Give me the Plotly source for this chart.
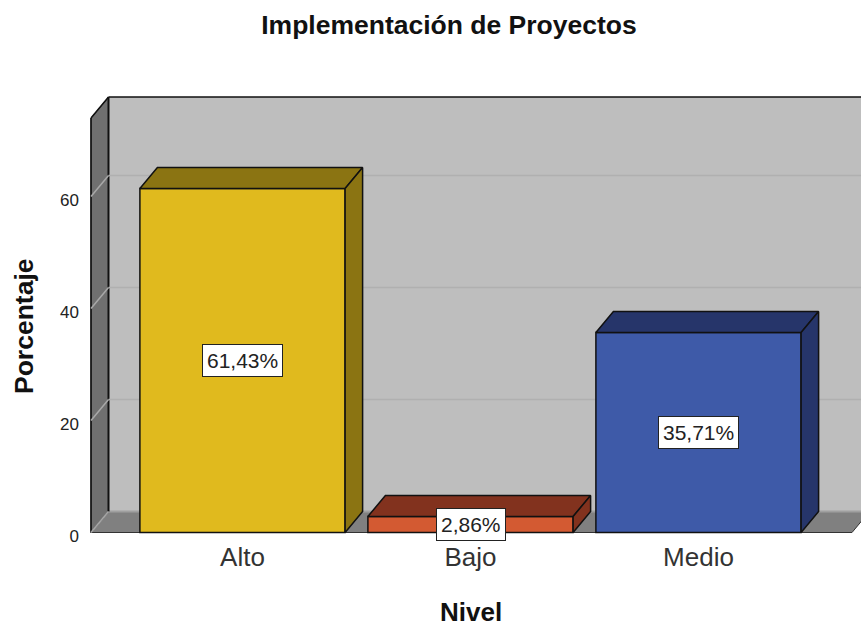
"""
Implementacion de Proyectos: SPSS style 3D bar chart.
Front faces are normal bars, the depth faces and the box are built on the same axes.
"""

import plotly.graph_objects as go

categories = ["Alto", "Bajo", "Medio"]
values = [61.43, 2.86, 35.71]
value_labels = ["61,43%", "2,86%", "35,71%"]
y_ticks = [0, 20, 40, 60]

front_colors = ["#E0BA1E", "#D35A32", "#3E5AA8"]
side_colors = ["#8B7412", "#82321E", "#26356A"]

WIDTH = 861
HEIGHT = 629

# pixel layout of the front plane
PX_PER_CAT = 228.0
PX_PER_UNIT = 5.6
X0_PX = 242.5
Y0_PX = 532.5

DEPTH_X = 17.5 / PX_PER_CAT
DEPTH_Y = 21.0 / PX_PER_UNIT
BAR_W = 0.9

# box corners in axis units
BOX_LEFT = (91 - X0_PX) / PX_PER_CAT
BOX_RIGHT = (852 - X0_PX) / PX_PER_CAT
BOX_TOP = 74.0

# plot area, a little bigger than the box so the edge lines are not clipped
LEFT_PX, RIGHT_PX = 85, 861
TOP_PX, BOTTOM_PX = 90, 538

x_range = [(LEFT_PX - X0_PX) / PX_PER_CAT, (RIGHT_PX - X0_PX) / PX_PER_CAT]
y_range = [(Y0_PX - BOTTOM_PX) / PX_PER_UNIT, (Y0_PX - TOP_PX) / PX_PER_UNIT]


def poly(points):
    return "M " + " L ".join(f"{x},{y}" for x, y in points) + " Z"


def box_shapes():
    back_l = BOX_LEFT + DEPTH_X
    back_r = BOX_RIGHT + DEPTH_X
    back_b = DEPTH_Y
    back_t = BOX_TOP + DEPTH_Y
    edge = dict(color="#111111", width=1.5)
    shapes = [
        # back wall
        dict(type="path", path=poly([(back_l, back_b), (back_l, back_t), (back_r + 1, back_t), (back_r + 1, back_b)]),
             fillcolor="#BEBEBE", line=dict(width=0), layer="below"),
        # floor
        dict(type="path", path=poly([(BOX_LEFT, 0), (back_l, back_b), (back_r, back_b), (BOX_RIGHT, 0)]),
             fillcolor="#808080", line=dict(color="#333333", width=1), layer="below"),
        # left wall
        dict(type="path", path=poly([(BOX_LEFT, 0), (BOX_LEFT, BOX_TOP), (back_l, back_t), (back_l, back_b)]),
             fillcolor="#707070", line=dict(color="#222222", width=1), layer="below"),
        # light band where the wall meets the floor
        dict(type="line", x0=back_l, x1=back_r + 1, y0=back_b, y1=back_b,
             line=dict(color="#A0A0A0", width=2), layer="below"),
        # box edges
        dict(type="line", x0=back_l, x1=back_r + 1, y0=back_t, y1=back_t, line=edge, layer="below"),
        dict(type="line", x0=back_l, x1=back_l, y0=back_b, y1=back_t, line=dict(color="#111111", width=2), layer="below"),
        dict(type="line", x0=BOX_LEFT, x1=back_l, y0=BOX_TOP, y1=back_t, line=edge, layer="below"),
        dict(type="line", x0=BOX_LEFT, x1=BOX_LEFT, y0=0, y1=BOX_TOP, line=edge, layer="below"),
    ]
    # grid lines run along the back wall and slant over the left wall
    for tick in y_ticks[1:]:
        shapes.append(dict(type="line", x0=back_l, x1=back_r + 1, y0=tick + DEPTH_Y, y1=tick + DEPTH_Y,
                           line=dict(color="#B0B0B0", width=1.5), layer="below"))
    for tick in y_ticks:
        shapes.append(dict(type="line", x0=BOX_LEFT, x1=back_l, y0=tick, y1=tick + DEPTH_Y,
                           line=dict(color="#A8A8A8", width=1.5), layer="below"))
    return shapes


fig = go.Figure()

# top and right faces of each bar
for i, val in enumerate(values):
    l = i - BAR_W / 2
    r = i + BAR_W / 2
    fig.add_trace(go.Scatter(
        x=[l, l + DEPTH_X, r + DEPTH_X, r, l],
        y=[val, val + DEPTH_Y, val + DEPTH_Y, val, val],
        mode="lines", fill="toself", fillcolor=side_colors[i],
        line=dict(color="#111111", width=1.5), hoverinfo="skip", showlegend=False,
    ))
    fig.add_trace(go.Scatter(
        x=[r, r + DEPTH_X, r + DEPTH_X, r, r],
        y=[0, DEPTH_Y, val + DEPTH_Y, val, 0],
        mode="lines", fill="toself", fillcolor=side_colors[i],
        line=dict(color="#111111", width=1.5), hoverinfo="skip", showlegend=False,
    ))

# front faces
fig.add_trace(go.Bar(
    x=list(range(len(categories))),
    y=values,
    width=BAR_W,
    marker=dict(color=front_colors, line=dict(color="#111111", width=1.5)),
    showlegend=False,
))

for i, val in enumerate(values):
    fig.add_annotation(
        x=i, y=val / 2, xref="x", yref="y", text=value_labels[i], showarrow=False,
        font=dict(family="Liberation Sans", size=21, color="#222222"),
        bgcolor="white", bordercolor="#222222", borderwidth=1, borderpad=4,
    )

# axis titles sit off the middle of the plot area, so they are placed by hand
fig.add_annotation(
    x=24 / WIDTH, y=1 - 326 / HEIGHT, xref="paper", yref="paper", text="<b>Porcentaje</b>",
    xanchor="center", yanchor="middle", textangle=-90, showarrow=False,
    font=dict(family="Liberation Sans", size=26.5, color="#111111"),
)
fig.add_annotation(
    x=471 / WIDTH, y=1 - 612 / HEIGHT, xref="paper", yref="paper", text="<b>Nivel</b>",
    xanchor="center", yanchor="middle", showarrow=False,
    font=dict(family="Liberation Sans", size=26, color="#111111"),
)

fig.update_layout(
    width=WIDTH,
    height=HEIGHT,
    autosize=False,
    margin=dict(l=0, r=0, t=0, b=0),
    paper_bgcolor="white",
    plot_bgcolor="white",
    shapes=box_shapes(),
    font=dict(family="Liberation Sans", color="#222222"),
    title=dict(
        text="<b>Implementación de Proyectos</b>",
        font=dict(family="Liberation Sans", size=26.5, color="#111111"),
        x=449 / WIDTH, xanchor="center", y=1 - 25 / HEIGHT, yanchor="middle",
    ),
)

fig.update_xaxes(
    domain=[LEFT_PX / WIDTH, RIGHT_PX / WIDTH],
    range=x_range,
    tickmode="array",
    tickvals=list(range(len(categories))),
    ticktext=categories,
    tickfont=dict(size=26, color="#333333"),
    showgrid=False, zeroline=False, showline=False, ticks="",
    ticklabelstandoff=1,
    automargin=False,
)
fig.update_yaxes(
    domain=[1 - BOTTOM_PX / HEIGHT, 1 - TOP_PX / HEIGHT],
    range=y_range,
    tickmode="array",
    tickvals=y_ticks,
    tickfont=dict(size=17, color="#222222"),
    showgrid=False, zeroline=False, showline=False, ticks="",
    ticklabelstandoff=5,
    ticklabelshift=4,
    automargin=False,
)

# the page body has a default margin that would push the chart 8px off
fig.write_html("out.html", config={"displayModeBar": False},
               post_script="document.body.style.margin = '0';")
